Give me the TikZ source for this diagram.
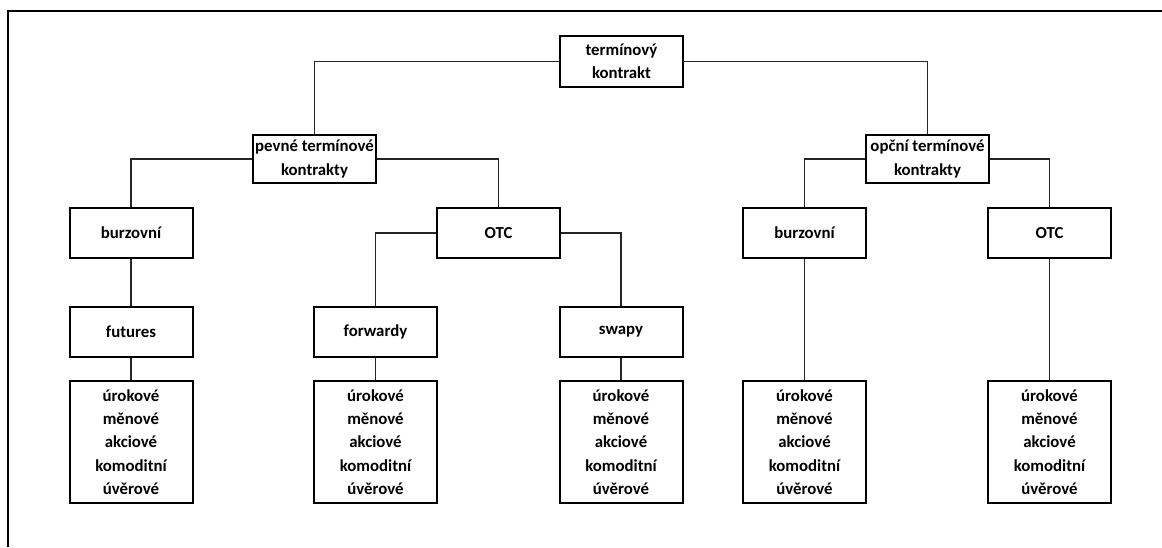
\documentclass[tikz,border=0pt]{standalone}
\usepackage{fontspec}
\setmainfont{Carlito}
\usepackage{tikz}
\usetikzlibrary{positioning}

\tikzset{
  blok/.style={draw, line width=1.5pt, minimum width=92.25pt, minimum height=37.5pt,
    align=center, inner sep=0.5pt, font=\bfseries\fontsize{12.6}{17.5}\selectfont},
  seznam/.style={blok, minimum height=91.5pt},
  spoj/.style={draw=black!85, line width=0.8pt}
}

\begin{document}
\begin{tikzpicture}[x=0.75pt, y=-0.75pt]
            \useasboundingbox (0,0) rectangle (1162,547);
            % Frame
            \draw[line width=1.6pt] (8,547) -- (8,11) -- (1162,11);

            % Nodes
            \node[blok, minimum height=38.25pt] (top) at (621.5, 61.5) {termínový\\kontrakt};
            \node[blok, minimum height=36pt] (pevne) at (314.5, 159) {pevné termínové\\kontrakty};
            \node[blok, minimum height=36pt] (opcni) at (927.5, 159) {opční termínové\\kontrakty};

            \node[blok] (burzL) at (131, 233) {burzovní};
            \node[blok] (otcL) at (498.5, 233) {OTC};
            \node[blok] (burzR) at (804.5, 233) {burzovní};
            \node[blok] (otcR) at (1049.5, 233) {OTC};

            \node[blok] (futures) at (131, 332) {futures};
            \node[blok] (forwardy) at (375.5, 332) {forwardy};
            \node[blok] (swapy) at (621, 332) {swapy};

            \foreach \n/\x in {futuresL/131, forwardyL/375.5, swapyL/621, burzRL/804.5, otcRL/1049.5}
              \node[seznam] (\n) at (\x, 442) {úrokové\\měnové\\akciové\\komoditní\\úvěrové};

            % Edges
            \draw[spoj] (top.west) -| (pevne.north);
            \draw[spoj] (top.east) -| (opcni.north);
            \draw[spoj] (pevne.west) -| (burzL.north);
            \draw[spoj] (pevne.east) -| (otcL.north);
            \draw[spoj] (opcni.west) -| (burzR.north);
            \draw[spoj] (opcni.east) -| (otcR.north);
            \draw[spoj] (otcL.west) -| (forwardy.north);
            \draw[spoj] (otcL.east) -| (swapy.north);
            \draw[spoj] (burzL) -- (futures);
            \draw[spoj] (futures) -- (futuresL);
            \draw[spoj] (forwardy) -- (forwardyL);
            \draw[spoj] (swapy) -- (swapyL);
            \draw[spoj] (burzR) -- (burzRL);
            \draw[spoj] (otcR) -- (otcRL);
\end{tikzpicture}
\end{document}
